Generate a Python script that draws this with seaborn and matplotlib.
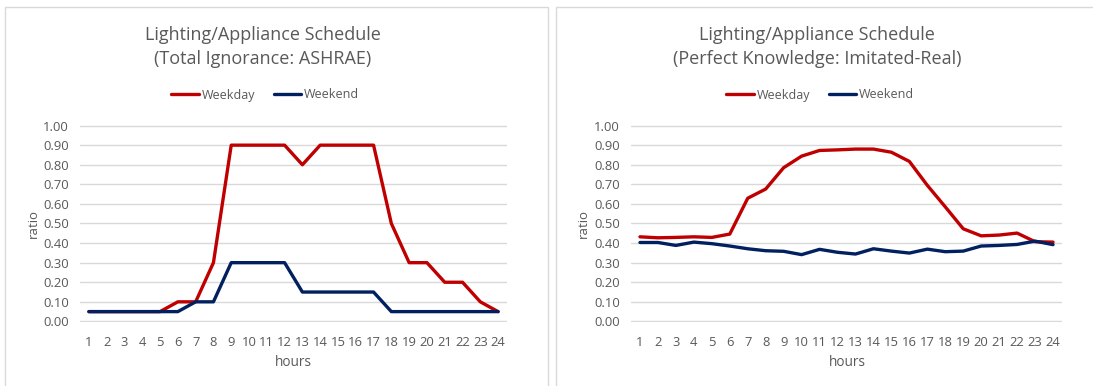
import matplotlib
matplotlib.use("Agg")
import matplotlib.pyplot as plt
import seaborn as sns
import pandas as pd
from matplotlib.patches import Rectangle

hours = list(range(1, 25))
ashrae_weekday = [0.05, 0.05, 0.05, 0.05, 0.05, 0.10, 0.10, 0.30, 0.90, 0.90, 0.90, 0.90,
                  0.80, 0.90, 0.90, 0.90, 0.90, 0.50, 0.30, 0.30, 0.20, 0.20, 0.10, 0.05]
ashrae_weekend = [0.05, 0.05, 0.05, 0.05, 0.05, 0.05, 0.10, 0.10, 0.30, 0.30, 0.30, 0.30,
                  0.15, 0.15, 0.15, 0.15, 0.15, 0.05, 0.05, 0.05, 0.05, 0.05, 0.05, 0.05]
real_weekday = [0.432, 0.427, 0.429, 0.432, 0.429, 0.446, 0.629, 0.676, 0.785, 0.844, 0.873, 0.876,
                0.880, 0.880, 0.864, 0.817, 0.695, 0.585, 0.473, 0.437, 0.441, 0.451, 0.407, 0.405]
real_weekend = [0.403, 0.403, 0.388, 0.405, 0.397, 0.385, 0.371, 0.361, 0.358, 0.341, 0.368, 0.353,
                0.344, 0.371, 0.359, 0.349, 0.369, 0.356, 0.359, 0.385, 0.388, 0.393, 0.410, 0.392]
series_names = ["Weekday", "Weekend"]
titles = ["Lighting/Appliance Schedule\n(Total Ignorance: ASHRAE)",
          "Lighting/Appliance Schedule\n(Perfect Knowledge: Imitated-Real)"]
yticks = [0.0, 0.1, 0.2, 0.3, 0.4, 0.5, 0.6, 0.7, 0.8, 0.9, 1.0]

sns.set_theme(style="white")
plt.rcParams['font.family'] = ['Open Sans', 'DejaVu Sans']

TXT = "#595959"
RED = "#C00000"
NAVY = "#002060"
GRID = "#D9D9D9"

W, H = 1093, 386
fig = plt.figure(figsize=(W / 100, H / 100), dpi=100)

def px(x0, y_top, x1, y_bot):
    return [x0 / W, 1 - y_bot / H, (x1 - x0) / W, (y_bot - y_top) / H]

# panel borders
for (bx0, bx1) in [(5, 548), (556, 1100)]:
    fig.patches.append(Rectangle((bx0 / W, -0.05), (bx1 - bx0) / W, 1 - 7 / H + 0.05,
                                 transform=fig.transFigure, fill=False,
                                 edgecolor="#D9D9D9", linewidth=1.0))

panels = [
    dict(data=(ashrae_weekday, ashrae_weekend), rect=px(80, 125, 507, 322),
         title_x=263, legend_x=265, ylab_x=33, xlab_x=293),
    dict(data=(real_weekday, real_weekend), rect=px(631, 125, 1062, 322),
         title_x=817, legend_x=820, ylab_x=583, xlab_x=847),
]

for i, p in enumerate(panels):
    ax = fig.add_axes(p["rect"])
    df = pd.DataFrame({
        "hours": hours * 2,
        "ratio": list(p["data"][0]) + list(p["data"][1]),
        "series": [series_names[0]] * 24 + [series_names[1]] * 24,
    })
    sns.lineplot(data=df, x="hours", y="ratio", hue="series",
                 palette={"Weekday": RED, "Weekend": NAVY},
                 linewidth=2.4, ax=ax, legend=False)
    ax.set_xlim(0.5, 24.5)
    ax.set_ylim(-0.003, 1.003)
    ax.set_yticks(yticks)
    ax.set_yticklabels([f"{v:.2f}" for v in yticks])
    ax.set_xticks(hours)
    ax.set_xticklabels([str(h) for h in hours])
    ax.grid(axis="y", color=GRID, linewidth=1.0)
    ax.set_axisbelow(True)
    for s in ax.spines.values():
        s.set_visible(False)
    ax.tick_params(axis="both", length=0, colors=TXT, labelsize=9.4)
    ax.tick_params(axis="y", pad=8)
    ax.tick_params(axis="x", pad=10)
    ax.set_xlabel("")
    ax.set_ylabel("")
    fig.text(p["ylab_x"] / W, 1 - 223 / H, "ratio", rotation=90, ha="center", va="center",
             color=TXT, fontsize=9.5)
    fig.text(p["xlab_x"] / W, 1 - 362 / H, "hours", ha="center", va="center",
             color=TXT, fontsize=9.8)
    fig.text(p["title_x"] / W, 1 - 47 / H, titles[i], ha="center", va="center",
             color=TXT, fontsize=13, linespacing=1.5)
    handles = [plt.Line2D([], [], color=RED, linewidth=2.4),
               plt.Line2D([], [], color=NAVY, linewidth=2.4)]
    fig.legend(handles, series_names, loc="center",
               bbox_to_anchor=(p["legend_x"] / W, 1 - 95 / H), ncol=2, frameon=False,
               fontsize=9, labelcolor=TXT, handlelength=2.2, handletextpad=0.2,
               columnspacing=1.5)

fig.savefig("out.png", dpi=100)
